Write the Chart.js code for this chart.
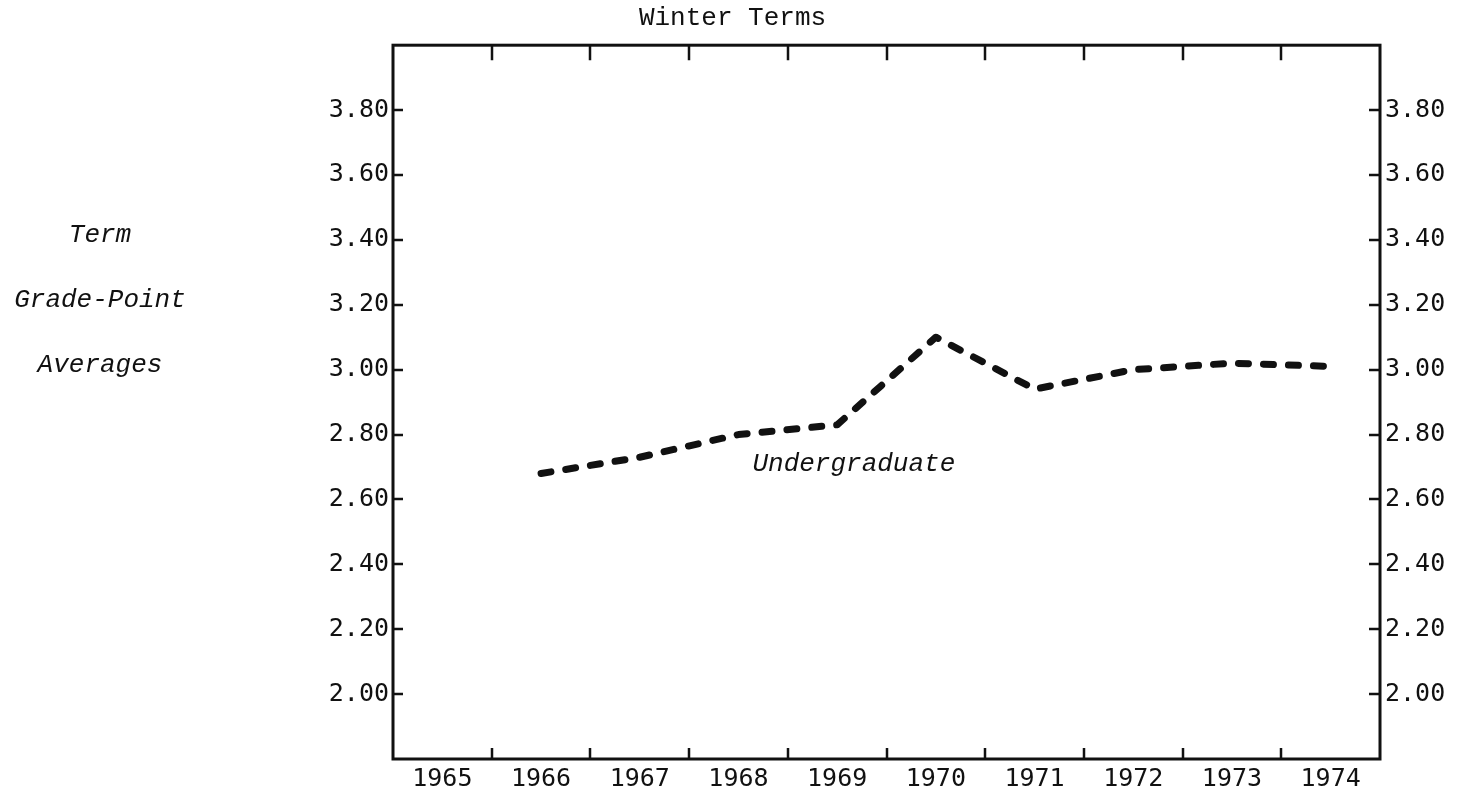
<!DOCTYPE html>
<html><head><meta charset="utf-8">
<script src="https://cdn.jsdelivr.net/npm/chart.js@4.4.1/dist/chart.umd.min.js"></script>
<style>html,body{margin:0;padding:0;background:#fff;overflow:hidden}#wrap{width:1465px;height:796px}</style>
</head><body><div id="wrap"><canvas id="c" width="1465" height="796"></canvas></div>
<script>
// ---- data ----
const years = ['1965','1966','1967','1968','1969','1970','1971','1972','1973','1974'];
const undergraduate = [null, 2.68, 2.73, 2.80, 2.83, 3.10, 2.94, 3.00, 3.02, 3.01];
const yTickValues = [2.00, 2.20, 2.40, 2.60, 2.80, 3.00, 3.20, 3.40, 3.60, 3.80];
const yAxisTitleLines = ['Term', 'Grade-Point', 'Averages'];
const chartTitle = 'Winter Terms';
const seriesLabel = 'Undergraduate';

const INK = '#111';
const tickFont = { family: 'DejaVu Sans Mono', size: 25 };

const framePlugin = {
  id: 'frame',
  afterDraw(chart) {
    const { ctx, chartArea: a, scales } = chart;
    ctx.save();
    ctx.strokeStyle = INK;
    ctx.lineWidth = 3;
    ctx.strokeRect(a.left, a.top, a.right - a.left, a.bottom - a.top);
    ctx.lineWidth = 2.5;
    ctx.beginPath();
    const xs = scales.x;
    for (let i = 0; i < years.length - 1; i++) {
      const px = Math.round((xs.getPixelForValue(i) + xs.getPixelForValue(i + 1)) / 2);
      ctx.moveTo(px, a.bottom); ctx.lineTo(px, a.bottom - 11);
      ctx.moveTo(px, a.top); ctx.lineTo(px, a.top + 15);
    }
    const ys = scales.y;
    yTickValues.forEach(v => {
      const py = Math.round(ys.getPixelForValue(v));
      ctx.moveTo(a.left, py); ctx.lineTo(a.left + 10, py);
      ctx.moveTo(a.right, py); ctx.lineTo(a.right - 11, py);
    });
    ctx.stroke();
    // left axis title (multi-line, italic)
    ctx.fillStyle = INK;
    ctx.font = 'italic 26px "Liberation Mono"';
    ctx.textAlign = 'center';
    ctx.textBaseline = 'middle';
    const titleY = [3.40, 3.20, 3.00];
    yAxisTitleLines.forEach((t, i) => {
      ctx.fillText(t, 100, ys.getPixelForValue(titleY[i]) - 5);
    });
    // series label
    ctx.textAlign = 'left';
    ctx.fillText(seriesLabel, xs.getPixelForValue(3) + 14, ys.getPixelForValue(2.71));
    ctx.restore();
  }
};

const yTickCb = v => Number(v).toFixed(2);

new Chart(document.getElementById('c'), {
  type: 'line',
  data: {
    labels: years,
    datasets: [{
      label: seriesLabel,
      data: undergraduate,
      borderColor: INK,
      borderWidth: 7,
      borderDash: [10, 15],
      borderCapStyle: 'round',
      borderJoinStyle: 'round',
      pointRadius: 0,
      tension: 0,
      fill: false,
      yAxisID: 'y'
    }]
  },
  options: {
    responsive: false,
    devicePixelRatio: 1,
    animation: false,
    layout: { padding: 0 },
    plugins: {
      legend: { display: false },
      tooltip: { enabled: false },
      title: {
        display: true,
        text: chartTitle,
        color: INK,
        font: { family: 'Liberation Mono', size: 26, weight: 'normal' },
        padding: { top: 3, bottom: 11 }
      }
    },
    scales: {
      x: {
        type: 'category',
        offset: true,
        grid: { display: false, drawTicks: false },
        border: { display: false },
        ticks: { color: INK, font: tickFont, padding: 5, maxRotation: 0, autoSkip: false },
        afterFit: s => { s.height = 37; }
      },
      y: {
        position: 'left',
        min: 1.8, max: 4.0,
        grid: { display: false, drawTicks: false },
        border: { display: false },
        afterBuildTicks: s => { s.ticks = yTickValues.map(v => ({ value: v })); },
        ticks: { color: INK, font: tickFont, padding: 4, callback: yTickCb },
        afterFit: s => { s.width = 393; }
      },
      y2: {
        position: 'right',
        min: 1.8, max: 4.0,
        grid: { display: false, drawTicks: false },
        border: { display: false },
        afterBuildTicks: s => { s.ticks = yTickValues.map(v => ({ value: v })); },
        ticks: { color: INK, font: tickFont, padding: 5, callback: yTickCb },
        afterFit: s => { s.width = 85; }
      }
    }
  },
  plugins: [framePlugin]
});
</script>
</body></html>
